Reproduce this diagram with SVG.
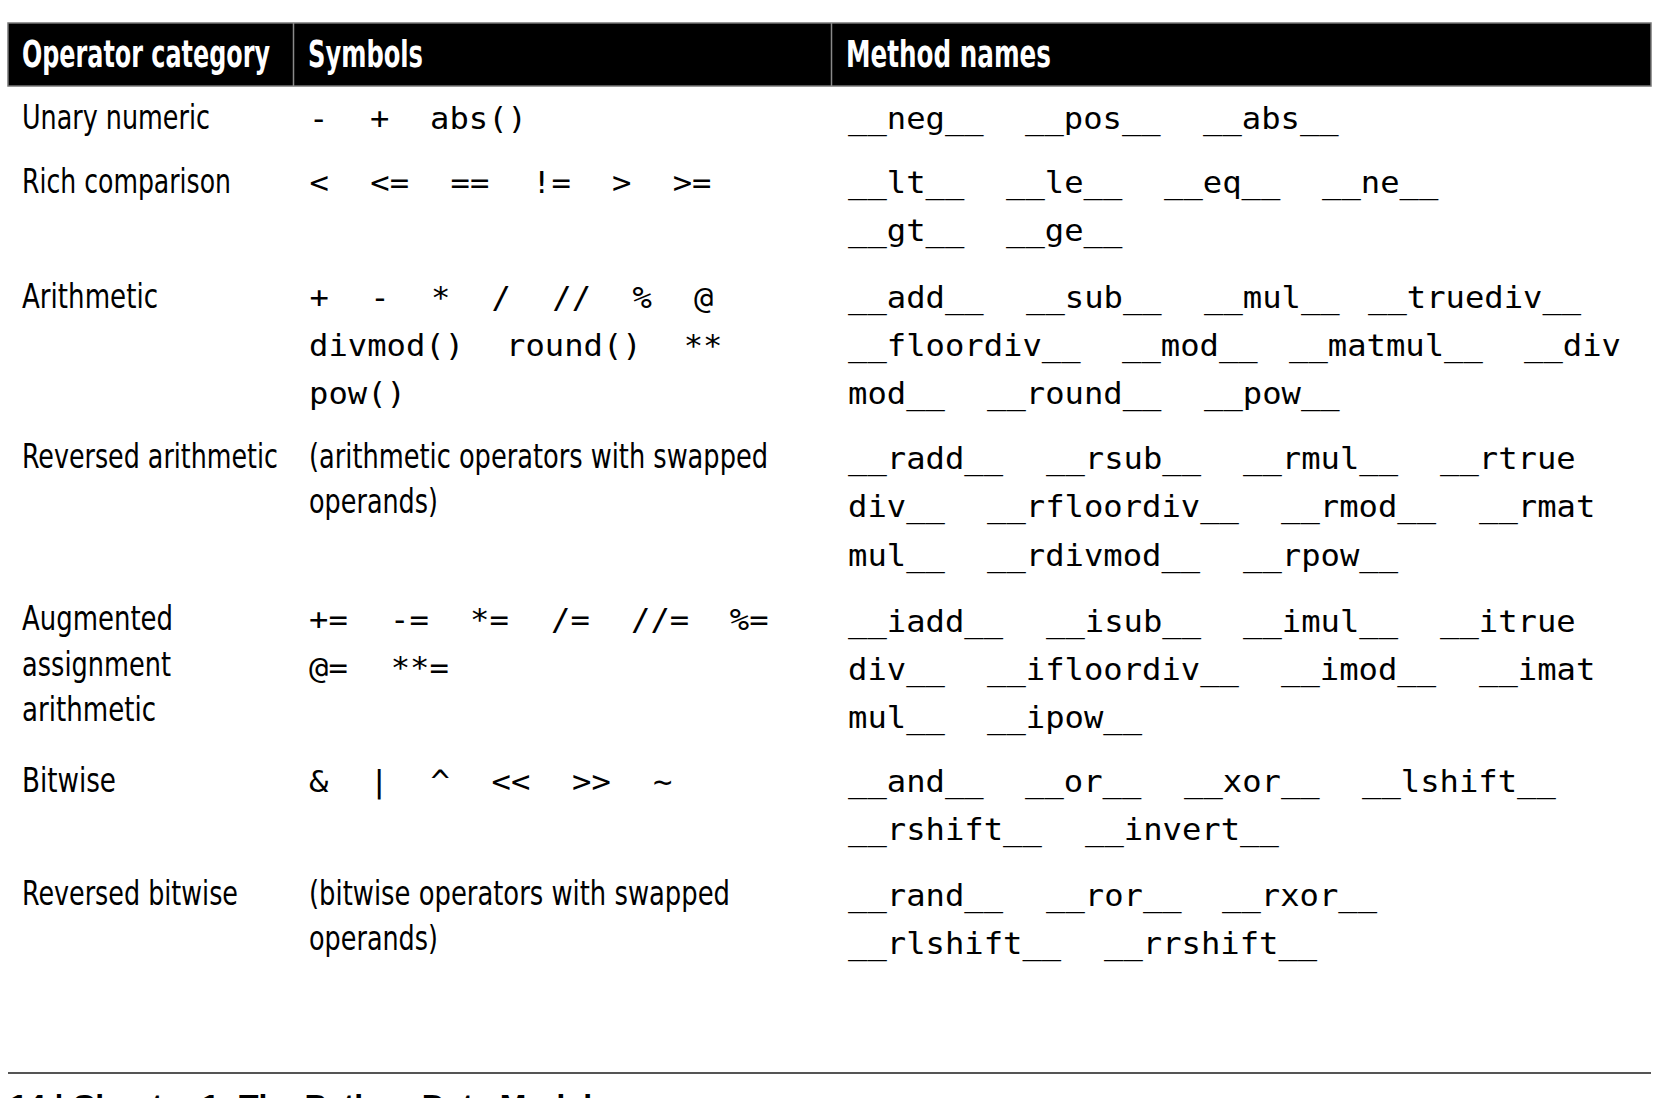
<svg xmlns="http://www.w3.org/2000/svg" width="1658" height="1098" viewBox="0 0 1658 1098">
<style>
  .sans { font-family: 'Liberation Sans Narrow','DejaVu Sans Condensed','Liberation Sans',sans-serif; font-size: 33.5px; fill: #000; }
  .hd { font-family: 'Liberation Sans Narrow','DejaVu Sans Condensed','Liberation Sans',sans-serif; font-size: 38px; font-weight: bold; fill: #fff; }
  .m { font-family: 'DejaVu Sans Mono','Liberation Mono',monospace; font-size: 31px; fill: #000; }
  .foot { font-family: 'Liberation Sans','DejaVu Sans',sans-serif; font-size: 28px; font-weight: bold; fill: #000; }
</style>
<rect width="1658" height="1098" fill="#fff"/>

<g id="header">
  <rect x="8" y="23" width="1643" height="63" fill="#000" stroke="#777" stroke-width="1.5"/>
  <line x1="293.5" y1="23" x2="293.5" y2="86" stroke="#8a8a8a" stroke-width="1.5"/>
  <line x1="831.5" y1="23" x2="831.5" y2="86" stroke="#8a8a8a" stroke-width="1.5"/>
  <text class="hd" x="22" y="67" textLength="248" lengthAdjust="spacingAndGlyphs">Operator category</text>
  <text class="hd" x="308" y="67" textLength="115" lengthAdjust="spacingAndGlyphs">Symbols</text>
  <text class="hd" x="846" y="67" textLength="205" lengthAdjust="spacingAndGlyphs">Method names</text>
</g>

<g id="row-unary">
  <text class="sans" x="22" y="129" textLength="188" lengthAdjust="spacingAndGlyphs">Unary numeric</text>
  <text class="m" x="309" y="129" textLength="19.38" lengthAdjust="spacingAndGlyphs">-</text>
  <text class="m" x="370" y="129" textLength="19.38" lengthAdjust="spacingAndGlyphs">+</text>
  <text class="m" x="430" y="129" textLength="96.9" lengthAdjust="spacingAndGlyphs">abs()</text>
  <text class="m" x="848" y="129" textLength="135.66" lengthAdjust="spacingAndGlyphs">__neg__</text>
  <text class="m" x="1025" y="129" textLength="135.66" lengthAdjust="spacingAndGlyphs">__pos__</text>
  <text class="m" x="1203" y="129" textLength="135.66" lengthAdjust="spacingAndGlyphs">__abs__</text>
</g>

<g id="row-rich">
  <text class="sans" x="22" y="193" textLength="209" lengthAdjust="spacingAndGlyphs">Rich comparison</text>
  <text class="m" x="309.6" y="193" textLength="19.38" lengthAdjust="spacingAndGlyphs">&lt;</text>
  <text class="m" x="370.3" y="193" textLength="38.76" lengthAdjust="spacingAndGlyphs">&lt;=</text>
  <text class="m" x="450.6" y="193" textLength="38.76" lengthAdjust="spacingAndGlyphs">==</text>
  <text class="m" x="532" y="193" textLength="38.76" lengthAdjust="spacingAndGlyphs">!=</text>
  <text class="m" x="612" y="193" textLength="19.38" lengthAdjust="spacingAndGlyphs">&gt;</text>
  <text class="m" x="672.7" y="193" textLength="38.76" lengthAdjust="spacingAndGlyphs">&gt;=</text>
  <text class="m" x="848" y="193" textLength="116.28" lengthAdjust="spacingAndGlyphs">__lt__</text>
  <text class="m" x="1006" y="193" textLength="116.28" lengthAdjust="spacingAndGlyphs">__le__</text>
  <text class="m" x="1164" y="193" textLength="116.28" lengthAdjust="spacingAndGlyphs">__eq__</text>
  <text class="m" x="1322" y="193" textLength="116.28" lengthAdjust="spacingAndGlyphs">__ne__</text>
  <text class="m" x="848" y="241" textLength="116.28" lengthAdjust="spacingAndGlyphs">__gt__</text>
  <text class="m" x="1006" y="241" textLength="116.28" lengthAdjust="spacingAndGlyphs">__ge__</text>
</g>

<g id="row-arith">
  <text class="sans" x="22" y="308" textLength="136" lengthAdjust="spacingAndGlyphs">Arithmetic</text>
  <text class="m" x="309.5" y="308" textLength="19.38" lengthAdjust="spacingAndGlyphs">+</text>
  <text class="m" x="370.2" y="308" textLength="19.38" lengthAdjust="spacingAndGlyphs">-</text>
  <text class="m" x="430.9" y="308" textLength="19.38" lengthAdjust="spacingAndGlyphs">*</text>
  <text class="m" x="491.6" y="308" textLength="19.38" lengthAdjust="spacingAndGlyphs">/</text>
  <text class="m" x="552.3" y="308" textLength="38.76" lengthAdjust="spacingAndGlyphs">//</text>
  <text class="m" x="632.6" y="308" textLength="19.38" lengthAdjust="spacingAndGlyphs">%</text>
  <text class="m" x="694" y="308" textLength="19.38" lengthAdjust="spacingAndGlyphs">@</text>
  <text class="m" x="309" y="356" textLength="155.04" lengthAdjust="spacingAndGlyphs">divmod()</text>
  <text class="m" x="506" y="356" textLength="135.66" lengthAdjust="spacingAndGlyphs">round()</text>
  <text class="m" x="683.7" y="356" textLength="38.76" lengthAdjust="spacingAndGlyphs">**</text>
  <text class="m" x="309" y="404" textLength="96.9" lengthAdjust="spacingAndGlyphs">pow()</text>
  <text class="m" x="848" y="308" textLength="135.66" lengthAdjust="spacingAndGlyphs">__add__</text>
  <text class="m" x="1026" y="308" textLength="135.66" lengthAdjust="spacingAndGlyphs">__sub__</text>
  <text class="m" x="1204" y="308" textLength="135.66" lengthAdjust="spacingAndGlyphs">__mul__</text>
  <text class="m" x="1368" y="308" textLength="213.18" lengthAdjust="spacingAndGlyphs">__truediv__</text>
  <text class="m" x="848" y="356" textLength="232.56" lengthAdjust="spacingAndGlyphs">__floordiv__</text>
  <text class="m" x="1122" y="356" textLength="135.66" lengthAdjust="spacingAndGlyphs">__mod__</text>
  <text class="m" x="1289" y="356" textLength="193.8" lengthAdjust="spacingAndGlyphs">__matmul__</text>
  <text class="m" x="1524" y="356" textLength="96.9" lengthAdjust="spacingAndGlyphs">__div</text>
  <text class="m" x="848" y="404" textLength="96.9" lengthAdjust="spacingAndGlyphs">mod__</text>
  <text class="m" x="987" y="404" textLength="174.42" lengthAdjust="spacingAndGlyphs">__round__</text>
  <text class="m" x="1204" y="404" textLength="135.66" lengthAdjust="spacingAndGlyphs">__pow__</text>
</g>

<g id="row-rarith">
  <text class="sans" x="22" y="468" textLength="256" lengthAdjust="spacingAndGlyphs">Reversed arithmetic</text>
  <text class="sans" x="309" y="468" textLength="459" lengthAdjust="spacingAndGlyphs">(arithmetic operators with swapped</text>
  <text class="sans" x="309" y="513" textLength="129" lengthAdjust="spacingAndGlyphs">operands)</text>
  <text class="m" x="848" y="469" textLength="155.04" lengthAdjust="spacingAndGlyphs">__radd__</text>
  <text class="m" x="1046" y="469" textLength="155.04" lengthAdjust="spacingAndGlyphs">__rsub__</text>
  <text class="m" x="1243" y="469" textLength="155.04" lengthAdjust="spacingAndGlyphs">__rmul__</text>
  <text class="m" x="1440" y="469" textLength="135.66" lengthAdjust="spacingAndGlyphs">__rtrue</text>
  <text class="m" x="848" y="517" textLength="96.9" lengthAdjust="spacingAndGlyphs">div__</text>
  <text class="m" x="987" y="517" textLength="251.94" lengthAdjust="spacingAndGlyphs">__rfloordiv__</text>
  <text class="m" x="1281" y="517" textLength="155.04" lengthAdjust="spacingAndGlyphs">__rmod__</text>
  <text class="m" x="1479" y="517" textLength="116.28" lengthAdjust="spacingAndGlyphs">__rmat</text>
  <text class="m" x="848" y="566" textLength="96.9" lengthAdjust="spacingAndGlyphs">mul__</text>
  <text class="m" x="987" y="566" textLength="213.18" lengthAdjust="spacingAndGlyphs">__rdivmod__</text>
  <text class="m" x="1243" y="566" textLength="155.04" lengthAdjust="spacingAndGlyphs">__rpow__</text>
</g>

<g id="row-augmented">
  <text class="sans" x="22" y="630" textLength="151" lengthAdjust="spacingAndGlyphs">Augmented</text>
  <text class="sans" x="22" y="676" textLength="149" lengthAdjust="spacingAndGlyphs">assignment</text>
  <text class="sans" x="22" y="721" textLength="134" lengthAdjust="spacingAndGlyphs">arithmetic</text>
  <text class="m" x="309" y="630" textLength="38.76" lengthAdjust="spacingAndGlyphs">+=</text>
  <text class="m" x="390" y="630" textLength="38.76" lengthAdjust="spacingAndGlyphs">-=</text>
  <text class="m" x="470" y="630" textLength="38.76" lengthAdjust="spacingAndGlyphs">*=</text>
  <text class="m" x="551" y="630" textLength="38.76" lengthAdjust="spacingAndGlyphs">/=</text>
  <text class="m" x="631" y="630" textLength="58.14" lengthAdjust="spacingAndGlyphs">//=</text>
  <text class="m" x="729.8" y="630" textLength="38.76" lengthAdjust="spacingAndGlyphs">%=</text>
  <text class="m" x="309" y="678" textLength="38.76" lengthAdjust="spacingAndGlyphs">@=</text>
  <text class="m" x="390.7" y="678" textLength="58.14" lengthAdjust="spacingAndGlyphs">**=</text>
  <text class="m" x="848" y="632" textLength="155.04" lengthAdjust="spacingAndGlyphs">__iadd__</text>
  <text class="m" x="1046" y="632" textLength="155.04" lengthAdjust="spacingAndGlyphs">__isub__</text>
  <text class="m" x="1243" y="632" textLength="155.04" lengthAdjust="spacingAndGlyphs">__imul__</text>
  <text class="m" x="1440" y="632" textLength="135.66" lengthAdjust="spacingAndGlyphs">__itrue</text>
  <text class="m" x="848" y="680" textLength="96.9" lengthAdjust="spacingAndGlyphs">div__</text>
  <text class="m" x="987" y="680" textLength="251.94" lengthAdjust="spacingAndGlyphs">__ifloordiv__</text>
  <text class="m" x="1281" y="680" textLength="155.04" lengthAdjust="spacingAndGlyphs">__imod__</text>
  <text class="m" x="1479" y="680" textLength="116.28" lengthAdjust="spacingAndGlyphs">__imat</text>
  <text class="m" x="848" y="728" textLength="96.9" lengthAdjust="spacingAndGlyphs">mul__</text>
  <text class="m" x="987" y="728" textLength="155.04" lengthAdjust="spacingAndGlyphs">__ipow__</text>
</g>

<g id="row-bitwise">
  <text class="sans" x="22" y="792" textLength="94" lengthAdjust="spacingAndGlyphs">Bitwise</text>
  <text class="m" x="309" y="792" textLength="19.38" lengthAdjust="spacingAndGlyphs">&amp;</text>
  <text class="m" x="369.5" y="792" textLength="19.38" lengthAdjust="spacingAndGlyphs">|</text>
  <text class="m" x="430.5" y="792" textLength="19.38" lengthAdjust="spacingAndGlyphs">^</text>
  <text class="m" x="491.5" y="792" textLength="38.76" lengthAdjust="spacingAndGlyphs">&lt;&lt;</text>
  <text class="m" x="572" y="792" textLength="38.76" lengthAdjust="spacingAndGlyphs">&gt;&gt;</text>
  <text class="m" x="653" y="792" textLength="19.38" lengthAdjust="spacingAndGlyphs">~</text>
  <text class="m" x="848" y="792" textLength="135.66" lengthAdjust="spacingAndGlyphs">__and__</text>
  <text class="m" x="1025" y="792" textLength="116.28" lengthAdjust="spacingAndGlyphs">__or__</text>
  <text class="m" x="1184" y="792" textLength="135.66" lengthAdjust="spacingAndGlyphs">__xor__</text>
  <text class="m" x="1362" y="792" textLength="193.8" lengthAdjust="spacingAndGlyphs">__lshift__</text>
  <text class="m" x="848" y="840" textLength="193.8" lengthAdjust="spacingAndGlyphs">__rshift__</text>
  <text class="m" x="1085" y="840" textLength="193.8" lengthAdjust="spacingAndGlyphs">__invert__</text>
</g>

<g id="row-rbitwise">
  <text class="sans" x="22" y="905" textLength="216" lengthAdjust="spacingAndGlyphs">Reversed bitwise</text>
  <text class="sans" x="309" y="905" textLength="421" lengthAdjust="spacingAndGlyphs">(bitwise operators with swapped</text>
  <text class="sans" x="309" y="950" textLength="129" lengthAdjust="spacingAndGlyphs">operands)</text>
  <text class="m" x="848" y="906" textLength="155.04" lengthAdjust="spacingAndGlyphs">__rand__</text>
  <text class="m" x="1046" y="906" textLength="135.66" lengthAdjust="spacingAndGlyphs">__ror__</text>
  <text class="m" x="1222" y="906" textLength="155.04" lengthAdjust="spacingAndGlyphs">__rxor__</text>
  <text class="m" x="848" y="954" textLength="213.18" lengthAdjust="spacingAndGlyphs">__rlshift__</text>
  <text class="m" x="1104" y="954" textLength="213.18" lengthAdjust="spacingAndGlyphs">__rrshift__</text>
</g>

<g id="footer">
  <line x1="8" y1="1073" x2="1651" y2="1073" stroke="#555" stroke-width="2"/>
  <text class="foot" x="10" y="1114" textLength="582" lengthAdjust="spacingAndGlyphs">14  |  Chapter 1: The Python Data Model</text>
</g>
</svg>
